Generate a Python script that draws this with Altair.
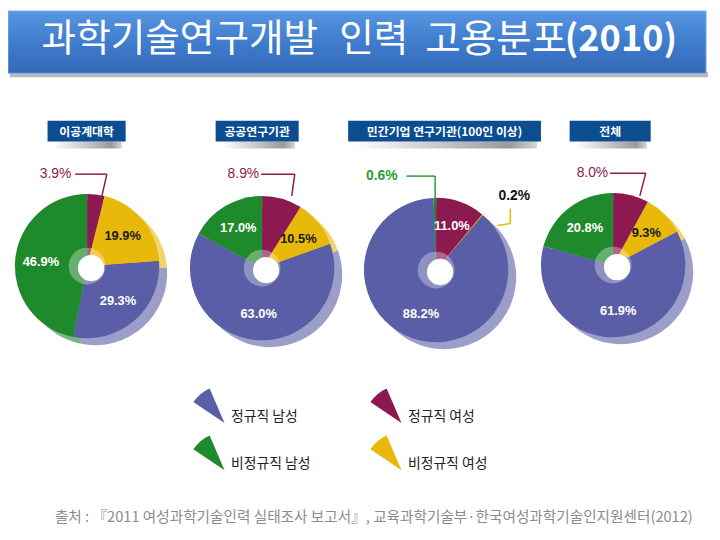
import altair as alt
import pandas as pd

# ---------------- data ----------------
groups = ["이공계대학", "공공연구기관", "민간기업 연구기관(100인 이상)", "전체"]
categories = ["정규직 남성", "비정규직 남성", "정규직 여성", "비정규직 여성"]
regular_male = [29.3, 63.0, 88.2, 61.9]
regular_female = [3.9, 8.9, 11.0, 8.0]
nonregular_male = [46.9, 17.0, 0.6, 20.8]
nonregular_female = [19.9, 10.5, 0.2, 9.3]
# clockwise drawing order from 12 o'clock
slice_order = ["정규직 여성", "비정규직 여성", "정규직 남성", "비정규직 남성"]

title_words = ["과학기술연구개발", "인력", "고용분포"]
title_year = "(2010)"
source_text = "출처 : 『2011 여성과학기술인력 실태조사 보고서』, 교육과학기술부·한국여성과학기술인지원센터(2012)"

series = {
    "정규직 남성": regular_male,
    "정규직 여성": regular_female,
    "비정규직 남성": nonregular_male,
    "비정규직 여성": nonregular_female,
}
rows = []
for gi, g in enumerate(groups):
    for cat in categories:
        rows.append({"group": g, "cat": cat, "value": series[cat][gi],
                     "ord": slice_order.index(cat)})
df = pd.DataFrame(rows)

# ---------------- style / layout ----------------
colors = ["#5a5ea6", "#1f8a2b", "#8c1a50", "#e8b80a"]
KFONT = "Noto Sans CJK KR"
M = 8          # page margin
W, H = 712, 532


def px(v):
    return v - M


centers = [(88, 266), (265, 268), (441, 270), (620, 265)]
R = 73
header_boxes = [(48, 127), (218, 302), (352, 547), (576, 658)]
title_word_x = [42, 343, 430]
title_word_size = [38, 38, 39]
title_year_x = 571
title_y = 37

callouts = [
    # text, x, y, align, text colour, weight, line colour, segments
    ("3.9%", 72, 173, "right", "#8c1a50", "normal", "#8c1a50",
     [(76, 173, 108, 173), (108, 173, 103, 195)]),
    ("8.9%", 262, 173, "right", "#8c1a50", "normal", "#8c1a50",
     [(264, 173, 298, 173), (298, 173, 295, 195)]),
    ("0.6%", 402, 175, "right", "#2e9a3a", "bold", "#2e9a3a",
     [(411, 175, 440, 175), (440, 175, 440, 198)]),
    ("0.2%", 520, 195, "center", "#111111", "bold", "#e8b80a",
     [(516, 208, 516, 223), (516, 223, 503, 225)]),
    ("8.0%", 615, 172, "right", "#8c1a50", "normal", "#8c1a50",
     [(617, 172, 653, 172), (653, 172, 647, 195)]),
]

one = alt.Data(values=[{"a": 1}])

wedge_path = "M 0.97 0.34 L -0.83 -0.87 A 2.17 2.17 0 0 1 0.11 -1.66 Z"
legend = alt.Legend(
    title=None, orient="none", legendX=px(192.5), legendY=px(401),
    columns=2, symbolType=wedge_path, symbolSize=1225, symbolStrokeWidth=0,
    symbolOpacity=1, labelFont=KFONT, labelFontSize=14, labelColor="#222222",
    labelOffset=6, rowPadding=11, columnPadding=57, padding=0,
)
fill_enc = alt.Fill("cat:N", scale=alt.Scale(domain=categories, range=colors),
                    legend=legend)
theta_enc = alt.Theta("value:Q", stack="normalize")
order_enc = alt.Order("ord:Q", sort="ascending")

layers = []

# banner
layers.append(alt.Chart(one).mark_rect(color="#8a8a8a", opacity=0.6).encode(
    x=alt.value(px(10)), x2=alt.value(px(716)), y=alt.value(px(70)), y2=alt.value(px(75))))
layers.append(alt.Chart(one).mark_rect(
    color=alt.Gradient(gradient="linear",
                       stops=[alt.GradientStop(color="#5896e2", offset=0),
                              alt.GradientStop(color="#3d7acb", offset=0.55),
                              alt.GradientStop(color="#3569b8", offset=1)],
                       x1=0, x2=0, y1=0, y2=1),
    stroke="#7fb0ee", strokeWidth=1).encode(
    x=alt.value(px(8)), x2=alt.value(px(714)), y=alt.value(px(8)), y2=alt.value(px(71))))
for word, wx, ws in zip(title_words, title_word_x, title_word_size):
    layers.append(alt.Chart(one).mark_text(
        text=word, font=KFONT, fontSize=ws, color="white", align="left",
        baseline="middle").encode(x=alt.value(px(wx)), y=alt.value(px(title_y))))
layers.append(alt.Chart(one).mark_text(
    text=title_year, font=KFONT, fontSize=36.5, fontWeight="bold", color="white",
    align="left", baseline="middle").encode(
    x=alt.value(px(title_year_x)), y=alt.value(px(title_y))))

# group headers
for g, (x0, x1) in zip(groups, header_boxes):
    layers.append(alt.Chart(one).mark_rect(
        color=alt.Gradient(gradient="linear",
                           stops=[alt.GradientStop(color="#ffffff", offset=0),
                                  alt.GradientStop(color="#9a9a9a", offset=0.85),
                                  alt.GradientStop(color="#d5d5d5", offset=1)],
                           x1=0, x2=1, y1=0, y2=0)).encode(
        x=alt.value(px(x0 + 6)), x2=alt.value(px(x1 - 4)),
        y=alt.value(px(140)), y2=alt.value(px(147))))
    layers.append(alt.Chart(one).mark_rect(color="#0c4d92").encode(
        x=alt.value(px(x0)), x2=alt.value(px(x1)),
        y=alt.value(px(119)), y2=alt.value(px(140))))
    layers.append(alt.Chart(one).mark_text(
        text=g, font=KFONT, fontSize=12, fontWeight="bold", color="white",
        align="center", baseline="middle").encode(
        x=alt.value(px((x0 + x1) / 2)), y=alt.value(px(130))))

# pies: side (extrusion) first, then faces
for gi, g in enumerate(groups):
    cx, cy = centers[gi]
    base = alt.Chart(df).transform_filter(alt.datum.group == g)
    layers.append(base.mark_arc(outerRadius=R, opacity=0.6).encode(
        theta=theta_enc, order=order_enc, fill=fill_enc,
        x=alt.value(px(cx + 8)), y=alt.value(px(cy + 7))))
for gi, g in enumerate(groups):
    cx, cy = centers[gi]
    base = alt.Chart(df).transform_filter(alt.datum.group == g)
    layers.append(base.mark_arc(outerRadius=R).encode(
        theta=theta_enc, order=order_enc, fill=fill_enc,
        x=alt.value(px(cx)), y=alt.value(px(cy))))
    layers.append(alt.Chart(one).mark_circle(
        size=3.1416 * 21 ** 2, color="white", opacity=0.32).encode(
        x=alt.value(px(cx)), y=alt.value(px(cy))))
    layers.append(alt.Chart(one).mark_circle(
        size=3.1416 * 15 ** 2, color="white", opacity=1).encode(
        x=alt.value(px(cx + 4)), y=alt.value(px(cy + 2))))
    layers.append(base.transform_calculate(
        lab="datum.value > 9 ? format(datum.value, '.1f') + '%' : ''").mark_text(
        radius=47, font="Liberation Sans", fontSize=13, fontWeight="bold",
        baseline="middle", align="center").encode(
        theta=theta_enc, order=order_enc, text="lab:N",
        color=alt.condition(alt.datum.cat == "비정규직 여성",
                            alt.value("#1a1a1a"), alt.value("white")),
        x=alt.value(px(cx)), y=alt.value(px(cy))))

# callouts
for text, tx, ty, align, tcol, weight, lcol, segs in callouts:
    for (x0, y0, x1, y1) in segs:
        layers.append(alt.Chart(one).mark_rule(color=lcol, strokeWidth=1.5).encode(
            x=alt.value(px(x0)), y=alt.value(px(y0)),
            x2=alt.value(px(x1)), y2=alt.value(px(y1))))
    layers.append(alt.Chart(one).mark_text(
        text=text, font="Liberation Sans", fontSize=14, fontWeight=weight,
        color=tcol, align=align, baseline="middle").encode(
        x=alt.value(px(tx)), y=alt.value(px(ty))))

# source
layers.append(alt.Chart(one).mark_text(
    text=source_text, font=KFONT, fontSize=14.8, color="#8c8c8c",
    align="center", baseline="middle").encode(
    x=alt.value(px(378)), y=alt.value(px(521))))

chart = alt.layer(*layers).properties(
    width=W, height=H, autosize=alt.AutoSizeParams(type="none"), padding=0
).configure_view(stroke=None)

chart.save("out.html", embed_options={"renderer": "svg", "actions": False})
